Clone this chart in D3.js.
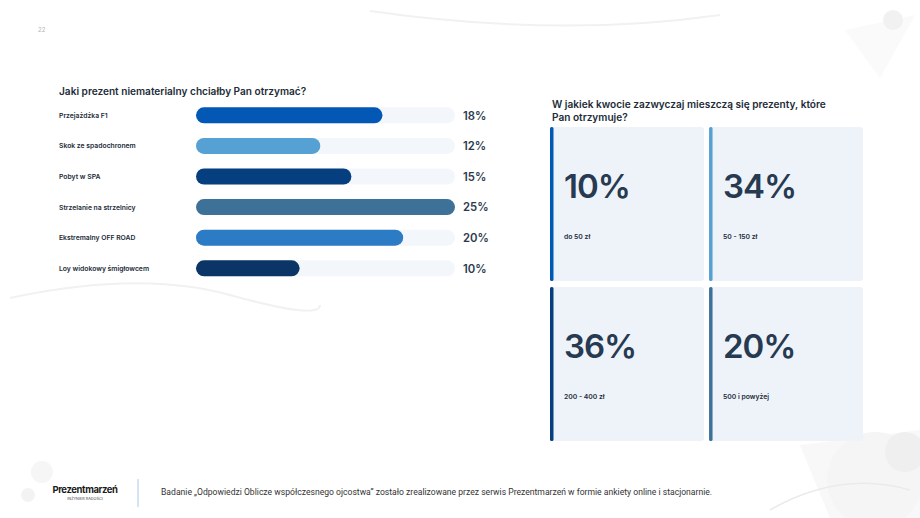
<!DOCTYPE html>
<html>
<head>
<meta charset="utf-8">
<script src="https://cdn.jsdelivr.net/npm/d3@7"></script>
<style>
  html, body { margin: 0; padding: 0; background: #fff; }
  svg { display: block; font-family: Inter, "Open Sans", sans-serif; }
</style>
</head>
<body>
<svg id="viz" width="920" height="518"></svg>
<script>
// --- Data ---
const giftCategories = ["Przejażdżka F1", "Skok ze spadochronem", "Pobyt w SPA",
    "Strzelanie na strzelnicy", "Ekstremalny OFF ROAD", "Loy widokowy śmigłowcem"];
const giftValues = [18, 12, 15, 25, 20, 10];
const giftColors = ["#0358b5", "#56a1d4", "#063f7f", "#3e7198", "#2c7bc5", "#0b3467"];

const priceRanges = ["do 50 zł", "50 - 150 zł", "200 - 400 zł", "500 i powyżej"];
const priceValues = [10, 34, 36, 20];
const priceColors = ["#0358b5", "#56a1d4", "#063f7f", "#3e7198"];

const CONFIG = {
    text: "#222b38",
    number: "#263a52",
    track: "#f3f7fb",
    card: "#eef3f9",
    deco: "#f1f1f1"
};

const svg = d3.select("#viz");

// --- Background decoration ---
const deco = svg.append("g");
deco.append("path")
    .attr("d", "M370,11 Q560,38 720,15")
    .attr("fill", "none").attr("stroke", CONFIG.deco).attr("stroke-width", 2);
deco.append("path")
    .attr("d", "M10,298 Q140,270 230,295 T320,305")
    .attr("fill", "none").attr("stroke", CONFIG.deco).attr("stroke-width", 2);
deco.append("path")
    .attr("d", "M845,30 L915,15 L880,78 Z").attr("fill", "#fafafa");
deco.append("circle").attr("cx", 893).attr("cy", 20).attr("r", 10).attr("fill", "#f1f1f1");
deco.append("path")
    .attr("d", "M800,445 L920,430 L920,518 L830,518 Z").attr("fill", "#f8f8f8");
deco.append("circle").attr("cx", 875).attr("cy", 480).attr("r", 48).attr("fill", "#f5f5f5");
deco.append("circle").attr("cx", 905).attr("cy", 452).attr("r", 20).attr("fill", "#efefef");
deco.append("path")
    .attr("d", "M770,510 Q840,470 910,490")
    .attr("fill", "none").attr("stroke", "#eaeaea").attr("stroke-width", 1.5);
deco.append("circle").attr("cx", 42).attr("cy", 472).attr("r", 11).attr("fill", "#f6f6f6");
deco.append("circle").attr("cx", 28).attr("cy", 495).attr("r", 7).attr("fill", "#f3f3f3");

// page number
svg.append("text").attr("x", 38).attr("y", 32)
    .attr("font-size", 6).attr("fill", "#b5b5b5").text("22");

// --- Left chart: horizontal bars ---
svg.append("text")
    .attr("x", 59).attr("y", 95)
    .attr("font-size", 10.1).attr("font-weight", 600).attr("fill", CONFIG.text)
    .text("Jaki prezent niematerialny chciałby Pan otrzymać?");

const x = d3.scaleLinear().domain([0, 25]).range([196, 455]);
const y = d3.scaleBand().domain(giftCategories).range([100, 283.6]);
const barH = 16;
const rows = giftCategories.map((c, i) => ({ cat: c, value: giftValues[i], color: giftColors[i] }));

const row = svg.append("g").selectAll("g")
    .data(rows).join("g")
    .attr("transform", d => `translate(0,${y(d.cat) + (y.bandwidth() - barH) / 2})`);

row.append("rect")
    .attr("x", x(0)).attr("width", x(25) - x(0)).attr("height", barH)
    .attr("rx", barH / 2).attr("fill", CONFIG.track);

row.append("rect")
    .attr("x", x(0)).attr("width", d => x(d.value) - x(0)).attr("height", barH)
    .attr("rx", barH / 2).attr("fill", d => d.color);

row.append("text")
    .attr("x", 59).attr("y", barH / 2 + 2.5)
    .attr("font-size", 6.8).attr("font-weight", 600).attr("fill", CONFIG.text)
    .text(d => d.cat);

row.append("text")
    .attr("x", 463).attr("y", barH / 2 + 4.3)
    .attr("font-size", 11.3).attr("font-weight", 600).attr("fill", "#2c3a4d")
    .text(d => d.value + "%");

// --- Right chart: cards ---
const rt = svg.append("text")
    .attr("x", 552).attr("y", 108)
    .attr("font-size", 10.1).attr("font-weight", 600).attr("fill", CONFIG.text);
rt.append("tspan").attr("x", 552).text("W jakiek kwocie zazwyczaj mieszczą się prezenty, które");
rt.append("tspan").attr("x", 552).attr("dy", 13).text("Pan otrzymuje?");

const cx = d3.scaleBand().domain([0, 1]).range([550, 863]).paddingInner(0.032);
const cy = d3.scaleBand().domain([0, 1]).range([127, 441]).paddingInner(0.038);
const cards = priceRanges.map((r, i) => ({ label: r, value: priceValues[i], color: priceColors[i], col: i % 2, row: Math.floor(i / 2) }));

const card = svg.append("g").selectAll("g")
    .data(cards).join("g")
    .attr("transform", d => `translate(${cx(d.col)},${cy(d.row)})`);

card.append("rect")
    .attr("width", cx.bandwidth()).attr("height", cy.bandwidth())
    .attr("rx", 3).attr("fill", CONFIG.card);

card.append("rect")
    .attr("width", 3.5).attr("height", cy.bandwidth())
    .attr("rx", 1.5).attr("fill", d => d.color);

card.append("text")
    .attr("x", 14).attr("y", 71)
    .attr("font-size", 33).attr("font-weight", 600).attr("fill", CONFIG.number)
    .attr("letter-spacing", -1)
    .text(d => d.value + "%");

card.append("text")
    .attr("x", 14).attr("y", 112)
    .attr("font-size", 6.8).attr("font-weight", 600).attr("fill", CONFIG.text)
    .text(d => d.label);

// --- Footer ---
svg.append("text").attr("x", 85).attr("y", 493).attr("text-anchor", "middle")
    .attr("font-size", 9.5).attr("font-weight", 700).attr("fill", "#1a1a1a")
    .attr("letter-spacing", -0.4).text("Prezentmarzeń");
svg.append("text").attr("x", 85).attr("y", 500).attr("text-anchor", "middle")
    .attr("font-size", 3.8).attr("fill", "#444").text("INŻYNIER RADOŚCI");
svg.append("line").attr("x1", 138).attr("x2", 138).attr("y1", 479).attr("y2", 507)
    .attr("stroke", "#a9c9e9").attr("stroke-width", 1);
svg.append("text").attr("x", 161).attr("y", 495)
    .attr("font-family", "Roboto, sans-serif")
    .attr("font-size", 8.6).attr("fill", "#333")
    .text("Badanie „Odpowiedzi Oblicze współczesnego ojcostwa” zostało zrealizowane przez serwis Prezentmarzeń w formie ankiety online i stacjonarnie.");
</script>
</body>
</html>
